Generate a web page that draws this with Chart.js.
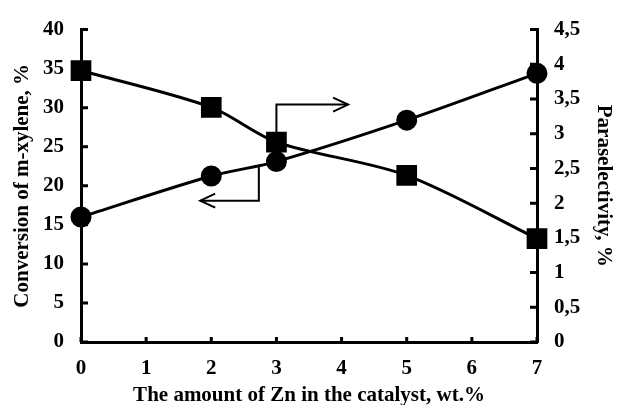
<!DOCTYPE html>
<html>
<head>
<meta charset="utf-8">
<script src="https://cdn.jsdelivr.net/npm/chart.js@4.4.0/dist/chart.umd.min.js"></script>
<style>
  html, body { margin: 0; padding: 0; background: #fff; }
  #wrap { width: 618px; height: 405px; }
</style>
</head>
<body>
<div id="wrap"><canvas id="chart" width="618" height="405"></canvas></div>
<script>
// Zn loading in the catalyst, wt.%
const zincLoading = [0, 2, 3, 5, 7];
// Conversion of m-xylene, % (left axis, circles)
const conversion = [16.0, 21.25, 23.1, 28.4, 34.4];
// Paraselectivity, % (right axis, squares)
const paraselectivity = [3.91, 3.38, 2.88, 2.4, 1.49];

// Axis ranges and tick steps
const xRange = [0, 7];
const conversionRange = [0, 40];
const selectivityRange = [0, 4.5];

// Pointer arrows, in x / conversion-axis units
const arrowToRight = { x: [3, 3, 4.1], y: [25.6, 30.4, 30.4] };
const arrowToLeft = { x: [2.73, 2.73, 1.83], y: [22.7, 18.1, 18.1] };

const FONT = '"Liberation Serif", "Times New Roman", serif';
const tickFont = { family: FONT, size: 21, weight: 'bold' };
const titleFont = { family: FONT, size: 21, weight: 'bold', lineHeight: 1 };

// Short tick marks drawn on the inner side of each axis
const innerTicks = {
  id: 'innerTicks',
  beforeDatasetsDraw(chart) {
    const { ctx, chartArea: a } = chart;
    const { x, y, y2 } = chart.scales;
    ctx.save();
    ctx.strokeStyle = '#000';
    ctx.lineWidth = 3;
    ctx.beginPath();
    x.ticks.forEach(t => {
      const px = x.getPixelForValue(t.value);
      ctx.moveTo(px, a.bottom); ctx.lineTo(px, a.bottom - 5);
    });
    y.ticks.forEach(t => {
      const py = y.getPixelForValue(t.value);
      ctx.moveTo(a.left, py); ctx.lineTo(a.left + 7, py);
    });
    y2.ticks.forEach(t => {
      const py = y2.getPixelForValue(t.value);
      ctx.moveTo(a.right, py); ctx.lineTo(a.right - 7, py);
    });
    ctx.stroke();
    ctx.restore();
  }
};

// Elbow arrows pointing each curve to its axis
const pointerArrows = {
  id: 'pointerArrows',
  afterDatasetsDraw(chart) {
    const { ctx } = chart;
    const { x, y } = chart.scales;
    ctx.save();
    ctx.strokeStyle = '#000';
    ctx.lineWidth = 2;
    ctx.lineJoin = 'miter';
    [arrowToRight, arrowToLeft].forEach(arr => {
      const pts = arr.x.map((v, i) => [x.getPixelForValue(v), y.getPixelForValue(arr.y[i])]);
      ctx.beginPath();
      pts.forEach((p, i) => i ? ctx.lineTo(p[0], p[1]) : ctx.moveTo(p[0], p[1]));
      ctx.stroke();
      const [ex, ey] = pts[pts.length - 1];
      const [sx, sy] = pts[pts.length - 2];
      const ang = Math.atan2(ey - sy, ex - sx);
      const len = 15, half = 7;
      const bx = ex - len * Math.cos(ang), by = ey - len * Math.sin(ang);
      const nx = -Math.sin(ang) * half, ny = Math.cos(ang) * half;
      ctx.beginPath();
      ctx.moveTo(bx + nx, by + ny);
      ctx.lineTo(ex, ey);
      ctx.lineTo(bx - nx, by - ny);
      ctx.stroke();
    });
    ctx.restore();
  }
};

new Chart(document.getElementById('chart'), {
  type: 'line',
  data: {
    datasets: [
      {
        label: 'Conversion of m-xylene, %',
        data: zincLoading.map((v, i) => ({ x: v, y: conversion[i] })),
        yAxisID: 'y',
        borderColor: '#000',
        backgroundColor: '#000',
        borderWidth: 3,
        tension: 0.3,
        pointStyle: 'circle',
        pointRadius: 9,
        pointHoverRadius: 9,
        clip: false
      },
      {
        label: 'Paraselectivity, %',
        data: zincLoading.map((v, i) => ({ x: v, y: paraselectivity[i] })),
        yAxisID: 'y2',
        borderColor: '#000',
        backgroundColor: '#000',
        borderWidth: 3,
        tension: 0.3,
        pointStyle: 'rect',
        pointRadius: 12.5,
        pointHoverRadius: 12.5,
        clip: false
      }
    ]
  },
  options: {
    responsive: false,
    devicePixelRatio: 1,
    animation: false,
    events: [],
    layout: { padding: { top: 22, left: 0, right: 0, bottom: 0 } },
    plugins: {
      legend: { display: false },
      tooltip: { enabled: false }
    },
    scales: {
      x: {
        type: 'linear',
        min: xRange[0],
        max: xRange[1],
        ticks: { stepSize: 1, font: tickFont, color: '#000', padding: 14, maxRotation: 0 },
        grid: { display: false, drawTicks: false },
        border: { display: true, color: '#000', width: 3 },
        title: {
          display: true,
          text: 'The amount of Zn in the catalyst, wt.%',
          font: titleFont,
          color: '#000',
          padding: { top: 0, bottom: -1 }
        },
        afterFit(s) { s.height = 63; }
      },
      y: {
        position: 'left',
        min: conversionRange[0],
        max: conversionRange[1],
        ticks: { stepSize: 5, font: tickFont, color: '#000', padding: 17 },
        grid: { display: false, drawTicks: false },
        border: { display: true, color: '#000', width: 3 },
        title: {
          display: true,
          text: 'Conversion of m-xylene, %',
          font: titleFont,
          color: '#000',
          padding: { top: 12, bottom: 0 }
        },
        afterFit(s) { s.width = 81; }
      },
      y2: {
        position: 'right',
        min: selectivityRange[0],
        max: selectivityRange[1],
        ticks: {
          stepSize: 0.5, font: tickFont, color: '#000', padding: 17,
          callback: v => String(Number(v.toFixed(1))).replace('.', ',')
        },
        grid: { display: false, drawTicks: false },
        border: { display: true, color: '#000', width: 3 },
        title: {
          display: true,
          text: 'Paraselectivity, %',
          font: titleFont,
          color: '#000',
          padding: { top: 4, bottom: 0 }
        },
        afterFit(s) { s.width = 81; }
      }
    }
  },
  plugins: [innerTicks, pointerArrows]
});
</script>
</body>
</html>
